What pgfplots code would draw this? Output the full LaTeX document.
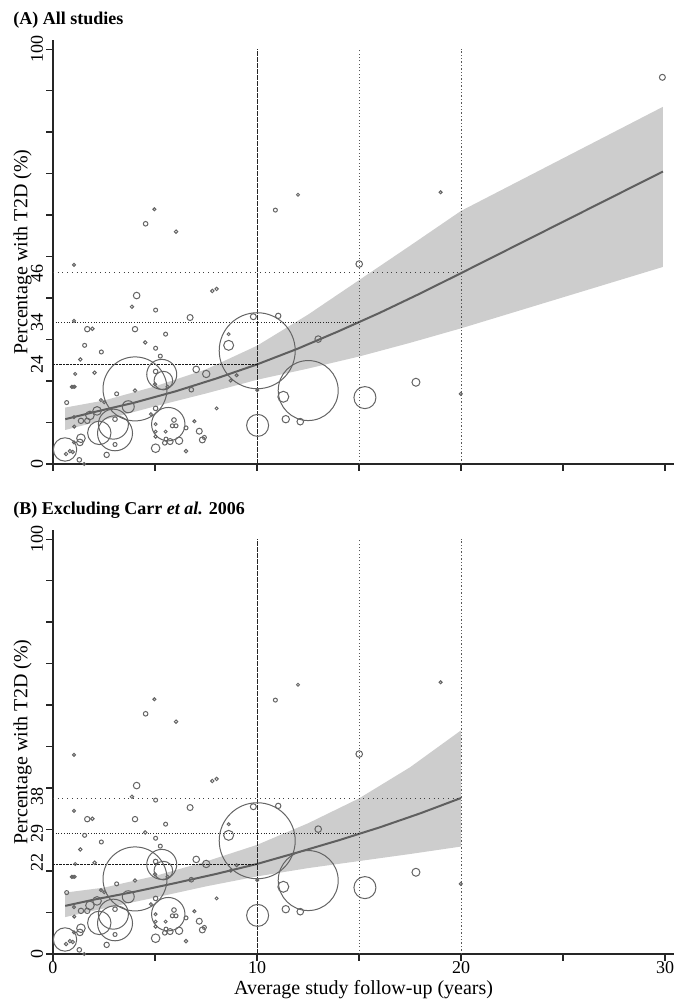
\documentclass[border=0pt]{standalone}
\usepackage{fontspec}
\setmainfont{Liberation Serif}
\usepackage{pgfplots}
\usepackage{pgfplotstable}
\pgfplotsset{compat=1.18}
\definecolor{bub}{HTML}{646464}
\definecolor{fitc}{HTML}{5F5F5F}
\definecolor{bandc}{HTML}{CDCDCD}

\pgfplotstableread{
x y r
6.03 56.0 0.85
1.03 48.0 0.75
4.10 40.6 1.65
3.87 37.9 0.85
5.03 37.1 1.0
7.81 41.7 0.85
8.02 42.2 0.85
6.72 35.3 1.5
1.03 34.5 0.75
1.68 32.5 1.35
1.93 32.6 0.85
4.02 32.5 1.35
5.52 31.3 1.0
4.52 29.3 0.85
1.55 28.6 1.0
5.03 27.9 1.0
2.37 27.0 1.0
5.26 26.0 1.0
1.34 25.2 0.85
1.09 21.7 0.75
2.04 22.0 0.85
5.03 22.3 1.15
5.33 21.6 7.5
5.41 20.1 4.65
5.00 19.2 0.85
5.62 18.6 0.85
0.92 18.6 0.75
0.98 18.6 0.75
1.06 18.6 0.75
4.02 17.7 0.85
3.12 16.9 1.0
6.78 17.9 1.15
7.02 22.8 1.65
7.51 21.7 1.85
8.02 13.4 0.75
8.61 28.6 2.5
8.61 31.3 0.75
8.71 20.1 0.75
9.00 21.4 0.75
9.82 35.5 1.5
11.04 35.7 1.35
13.00 30.1 1.65
10.01 17.8 0.75
11.29 16.2 2.75
11.41 10.8 1.85
12.12 10.2 1.65
10.03 9.3 5.5
10.01 27.3 19
12.51 17.7 15
4.02 18.1 16
0.67 14.8 1.0
2.35 15.4 0.75
2.51 14.9 0.75
3.69 13.8 3.0
2.16 12.8 2.15
1.81 11.7 2.15
1.37 10.4 1.35
1.68 10.4 1.35
1.03 11.3 0.75
1.04 9.0 0.75
3.04 10.8 1.15
2.96 9.6 7.5
2.27 7.5 5.85
3.04 7.4 8.75
1.37 6.2 2.15
1.32 5.2 1.65
1.03 5.2 0.75
0.83 3.1 0.85
0.64 2.4 0.85
0.97 2.9 0.85
0.59 3.5 5.85
1.29 1.0 1.15
1.53 0.0 0.75
2.63 2.2 1.35
3.04 4.7 1.0
5.03 13.4 1.15
4.80 12.0 0.75
5.65 9.6 8.35
5.93 10.6 1.15
5.85 9.2 1.0
6.03 9.2 1.0
5.03 9.6 0.75
5.03 7.8 0.75
5.03 6.6 0.85
5.52 7.8 0.75
5.54 6.0 1.0
5.48 5.1 1.15
5.74 5.4 1.5
6.18 5.6 1.85
6.52 8.7 1.0
6.93 10.3 0.75
7.17 7.9 1.5
7.32 5.8 1.5
7.42 6.4 1.0
5.03 3.8 2.15
6.52 3.1 0.85
4.97 61.4 0.75
4.54 57.9 1.15
10.90 61.2 1.0
12.01 64.9 0.75
19.00 65.5 0.75
15.01 48.2 1.65
17.79 19.7 2.0
15.29 16.0 5.5
19.99 16.9 0.75
}\bubbles

\pgfplotstableread{
x y r
29.87 93.2 1.5
}\carr

\pgfplotsset{
  bubbles/.style={scatter, only marks, mark=o,
    visualization depends on={\thisrow{r}\as\rad},
    scatter/use mapped color={draw=bub},
    scatter/@pre marker code/.append style={/tikz/mark size=\rad pt},
    mark options={line width=0.5pt}},
  panel/.style={
    scale only axis, width=310.6pt, height=212pt,
    xmin=0, xmax=30.45, ymin=0, ymax=102.2,
    axis x line*=bottom, axis y line*=left,
    axis line style={-, line width=0.6pt, black!85},
    tick align=outside, major tick length=3.3pt,
    every tick/.style={line width=0.6pt, black!85},
    xtick={0,5,...,30},
    ytick={0,10,...,100},
    yticklabels={0,,,,,,,,,,100},
    extra y tick style={every major tick/.append style={opacity=0}},
    yticklabel style={rotate=90, anchor=south, inner sep=1.5pt},
    xticklabel style={inner sep=0.5pt},
    tick label style={font=\fontsize{9}{10}\selectfont},
    label style={font=\fontsize{9}{10}\selectfont},
    /pgf/number format/assume math mode=true,
    clip=false,
    ylabel={Percentage with T2D (\%)},
    every axis y label/.style={at={(axis description cs:-0.0491,0.5)}, rotate=90, anchor=center, inner sep=0pt},
  },
  rten/.style={line width=0.45pt, black!85, dash pattern=on 0.25pt off 0.35pt},
  rfif/.style={line width=0.5pt, black!65, dash pattern=on 0.5pt off 1.15pt},
  rtwe/.style={line width=0.5pt, black!65, dash pattern=on 0.7pt off 1.0pt},
  ha/.style={line width=0.45pt, black!90, dash pattern=on 0.3pt off 0.4pt},
  hb/.style={line width=0.5pt, black!85, dash pattern=on 0.45pt off 0.9pt},
  hc/.style={line width=0.5pt, black!75, dash pattern=on 0.5pt off 1.85pt},
}

\begin{document}
\begin{tikzpicture}
\useasboundingbox (0,0) rectangle (337.5pt,499.5pt);
\node[anchor=base west, font=\fontsize{9}{10}\selectfont\bfseries, inner sep=0pt] at (6.5pt,487pt) {(A) All studies};
\begin{axis}[panel, at={(26.5pt,267.5pt)}, anchor=south west, xticklabels={},
  extra y ticks={24,34,46}, extra y tick labels={24,34,46}]
\addplot[fill=bandc, draw=none] coordinates {(0.6,13.6) (2.5,15.3) (5,18.7) (7.5,22.8) (10,28.5) (12.5,36.0) (15,44.3) (17.5,52.6) (20,61.0) (29.9,86.1) (29.9,47.5) (20,32.7) (17.5,29.2) (15,25.9) (12.5,23.0) (10,20.3) (7.5,17.0) (5,13.9) (2.5,10.6) (0.6,8.2)} -- cycle;
\addplot[bubbles] table[x=x,y=y] \bubbles;
\addplot[bubbles] table[x=x,y=y] \carr;
\addplot[fitc, line width=1pt, mark=none] coordinates {(0.6,10.8) (2,12.5) (4,14.8) (6,17.5) (8,20.6) (10,24.0) (12,27.8) (14,32.0) (16,36.4) (18,41.1) (20,46.0) (29.9,70.5)};
\addplot[rten] coordinates {(10,0) (10,100)};
\addplot[rfif] coordinates {(15,0) (15,100)};
\addplot[rtwe] coordinates {(20,0) (20,100)};
\addplot[ha] coordinates {(0,24) (10,24)};
\addplot[hb] coordinates {(0,34.1) (15,34.1)};
\addplot[hc] coordinates {(0,46.2) (20,46.2)};
\end{axis}
\node[anchor=base west, font=\fontsize{9}{10}\selectfont\bfseries, inner sep=0pt] at (6.5pt,242pt) {(B) Excluding Carr \textit{et al.} 2006};
\begin{axis}[panel, at={(26.5pt,22.5pt)}, anchor=south west, xticklabels={0,,10,,20,,30},
  extra y ticks={22,29,38}, extra y tick labels={22,29,38},
  xlabel={Average study follow-up (years)},
  every axis x label/.style={at={(axis description cs:0.5,0)}, anchor=base, yshift=-20.4pt, inner sep=0pt}]
\addplot[fill=bandc, draw=none] coordinates {(0.6,14.8) (2.5,16.0) (5,18.8) (7.5,22.3) (10,26.3) (12.5,31.5) (15,37.5) (17.5,45.0) (20,53.9) (20,25.9) (17.5,24.1) (15,22.4) (12.5,20.7) (10,18.7) (7.5,16.3) (5,13.6) (2.5,11.0) (0.6,8.9)} -- cycle;
\addplot[bubbles] table[x=x,y=y] \bubbles;
\addplot[fitc, line width=1pt, mark=none] coordinates {(0.6,11.6) (2,13.1) (4,15.0) (6,17.1) (8,19.3) (10,21.7) (12,24.5) (14,27.4) (16,30.5) (18,33.9) (20,37.6)};
\addplot[rten] coordinates {(10,0) (10,100)};
\addplot[rfif] coordinates {(15,0) (15,100)};
\addplot[rtwe] coordinates {(20,0) (20,100)};
\addplot[ha] coordinates {(0,21.7) (10,21.7)};
\addplot[hb] coordinates {(0,29.0) (15,29.0)};
\addplot[hc] coordinates {(0,37.6) (20,37.6)};
\end{axis}
\end{tikzpicture}
\end{document}
